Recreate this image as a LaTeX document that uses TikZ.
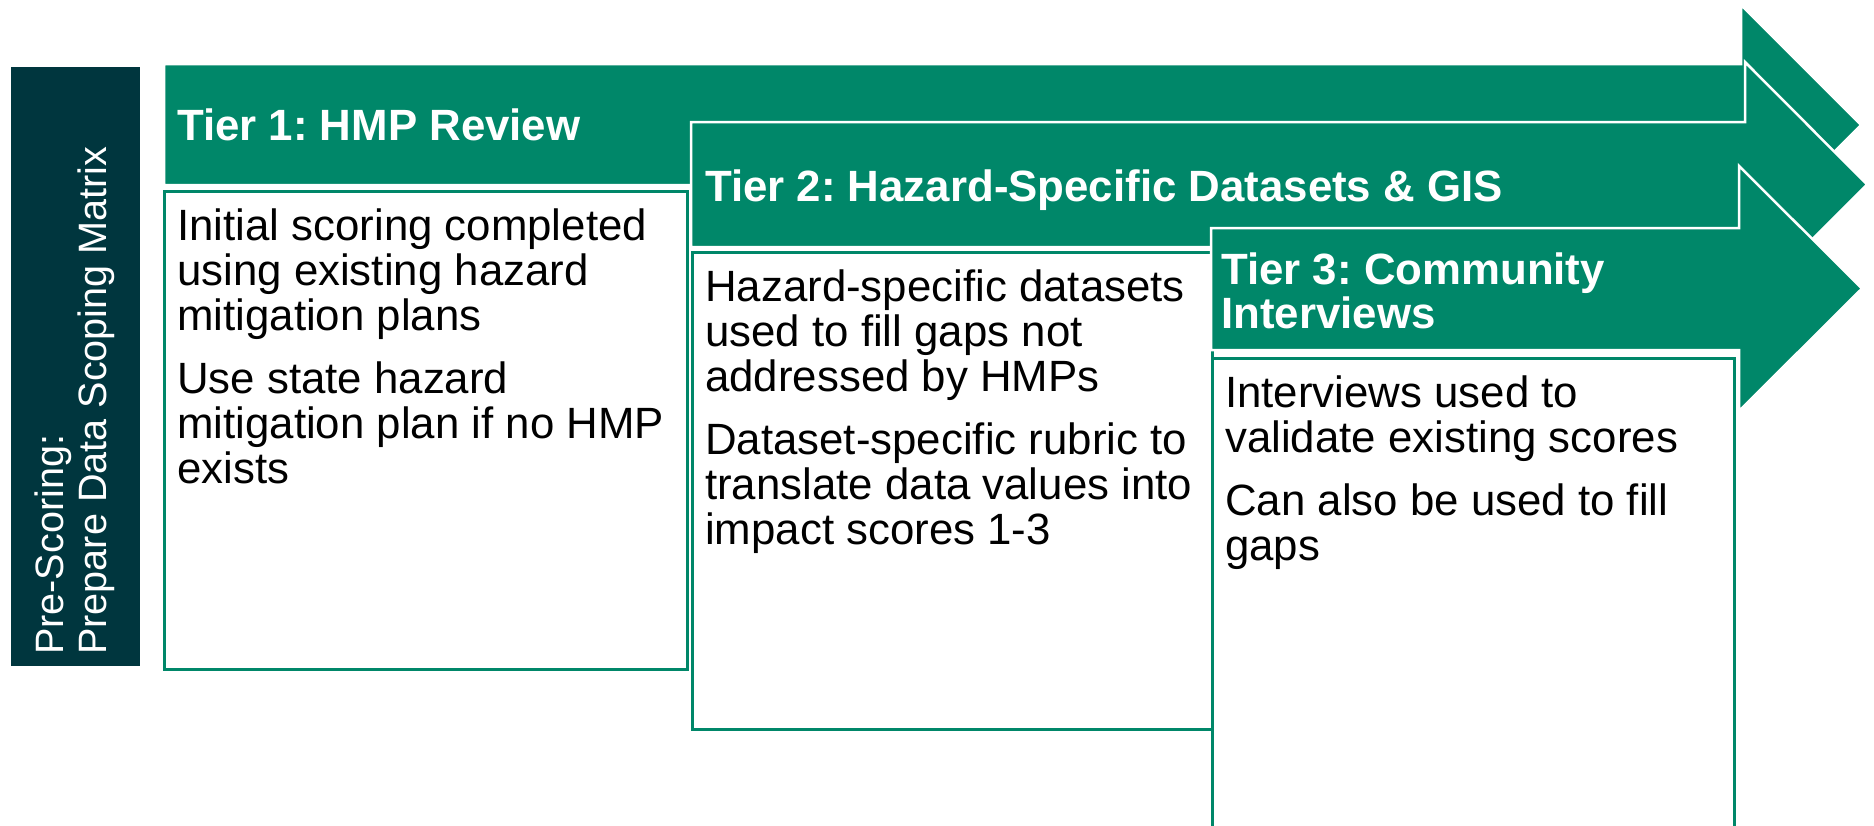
\documentclass[tikz,border=0pt]{standalone}
\usepackage{fontspec}
\setmainfont{Liberation Sans}
\usepackage{xcolor}
\usetikzlibrary{positioning}
\definecolor{tiergreen}{RGB}{0,135,105}
\definecolor{darkteal}{RGB}{0,54,62}
\frenchspacing

\begin{document}
\begin{tikzpicture}[
    x=1pt, y=-1pt,
    tierarrow/.style={fill=tiergreen, draw=white, line width=2.5pt},
    tierbox/.style={draw=tiergreen, line width=3pt, fill=white,
                    inner sep=0pt, anchor=north west},
    prebox/.style={fill=darkteal, inner sep=0pt, anchor=north west},
    head/.style={anchor=west, inner sep=0pt, align=left, text=white,
                 font=\fontsize{43.8}{44}\selectfont\bfseries},
    body/.style={anchor=north west, inner sep=0pt, align=left,
                 font=\fontsize{43.8}{45}\selectfont},
    prelbl/.style={rotate=90, anchor=west, inner sep=0pt, align=left,
                   text=white, font=\fontsize{39.6}{43}\selectfont}
]
\useasboundingbox (0,0) rectangle (1874,825);
%% Pre-scoring column
\node[prebox, minimum width=129, minimum height=599] (prescore) at (11,67) {};
\node[prelbl] (prelabel) at (75,655) {Pre-Scoring:\\Prepare Data Scoping Matrix};
%% Tier 1
\filldraw[tierarrow] (164,64) -- (1741,64) -- (1741,5) -- (1861,125)
    -- (1741,245) -- (1741,185) -- (164,185) -- cycle;
\node[head] (tier1) at (177,125) {Tier 1: HMP Review};
\node[tierbox, minimum width=523, minimum height=478] (box1) at (163,190) {};
\node[body] (text1) at ([xshift=14pt, yshift=-19pt]box1.north west) {
    Initial scoring completed\\
    using existing hazard\\
    mitigation plans\\[18pt]
    Use state hazard\\
    mitigation plan if no HMP\\
    exists
};
%% Tier 2
\filldraw[tierarrow] (691,122) -- (1745,122) -- (1745,62) -- (1867,184.5)
    -- (1745,307) -- (1745,247) -- (691,247) -- cycle;
\node[head] (tier2) at (705,190) {Tier 2: Hazard-Specific Datasets \& GIS};
\node[tierbox, minimum width=520, minimum height=477] (box2) at (691,251) {};
\node[body] (text2) at ([xshift=14pt, yshift=-19pt]box2.north west) {
    Hazard-specific datasets\\
    used to fill gaps not\\
    addressed by HMPs\\[18pt]
    Dataset-specific rubric to\\
    translate data values into\\
    impact scores 1-3
};
%% Tier 3
\filldraw[tierarrow] (1211,228) -- (1739,228) -- (1739,166) -- (1862,288.5)
    -- (1739,411) -- (1739,350) -- (1211,350) -- cycle;
\node[head] (tier3) at (1221,291) {Tier 3: Community\\Interviews};
\node[tierbox, minimum width=522, minimum height=475] (box3) at (1211,357) {};
\node[body] (text3) at ([xshift=14pt, yshift=-19pt]box3.north west) {
    Interviews used to\\
    validate existing scores\\[18pt]
    Can also be used to fill\\
    gaps
};
\end{tikzpicture}
\end{document}
